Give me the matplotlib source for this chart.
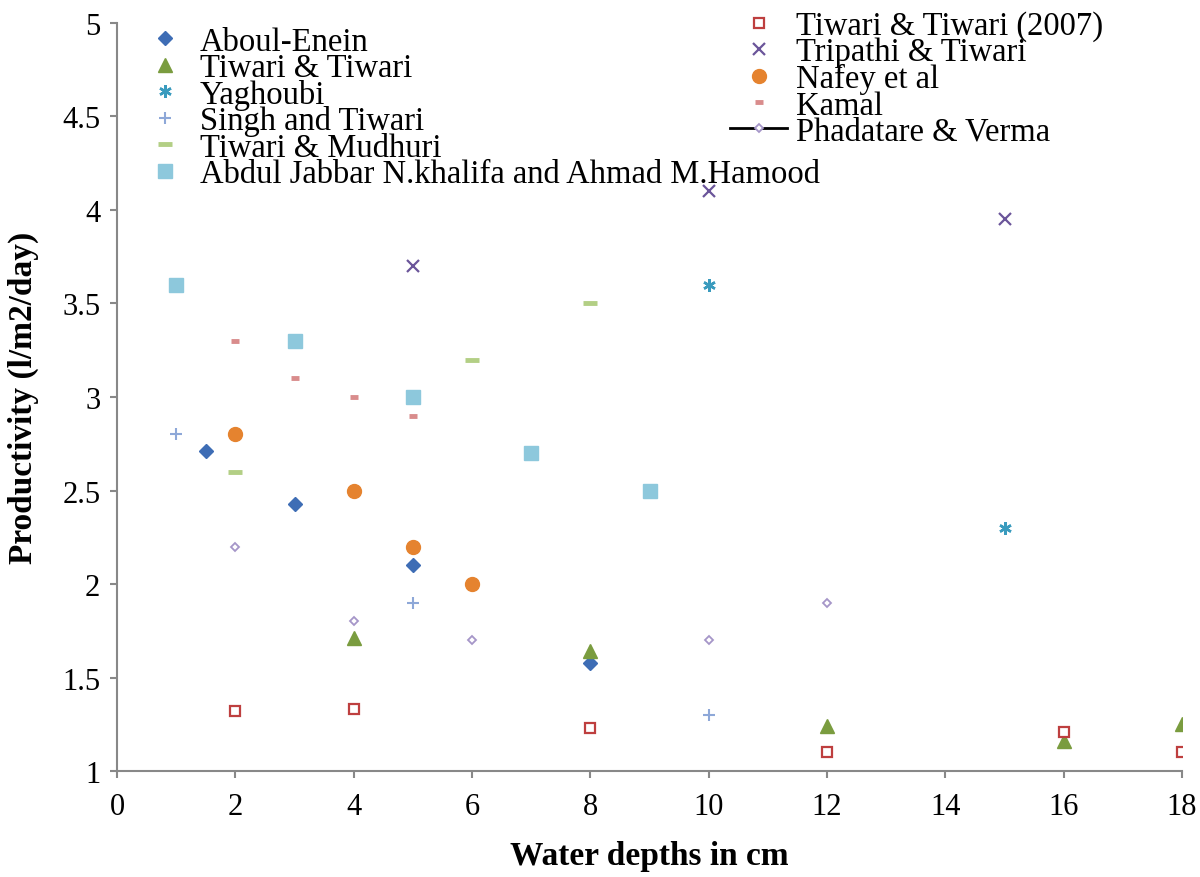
import matplotlib
matplotlib.use('Agg')
import matplotlib.pyplot as plt
from matplotlib.lines import Line2D

plt.rcParams['font.family'] = ['Liberation Serif', 'DejaVu Serif']

# ===== data =====
aboul_x = [1.5, 3, 5, 8]
aboul_y = [2.71, 2.43, 2.10, 1.58]

tiwari_x = [4, 8, 12, 16, 18]
tiwari_y = [1.71, 1.64, 1.24, 1.16, 1.25]

yaghoubi_x = [10, 15]
yaghoubi_y = [3.6, 2.3]

singh_x = [1, 5, 10]
singh_y = [2.8, 1.9, 1.3]

mudhuri_x = [2, 6, 8]
mudhuri_y = [2.6, 3.2, 3.5]

abdul_x = [1, 3, 5, 7, 9]
abdul_y = [3.6, 3.3, 3.0, 2.7, 2.5]

tiwari07_x = [2, 4, 8, 12, 16, 18]
tiwari07_y = [1.32, 1.33, 1.23, 1.10, 1.21, 1.10]

tripathi_x = [5, 10, 15]
tripathi_y = [3.7, 4.1, 3.95]

nafey_x = [2, 4, 5, 6]
nafey_y = [2.8, 2.5, 2.2, 2.0]

kamal_x = [2, 3, 4, 5]
kamal_y = [3.3, 3.1, 3.0, 2.9]

phad_x = [2, 4, 6, 10, 12]
phad_y = [2.2, 1.8, 1.7, 1.7, 1.9]

x_ticks = [0, 2, 4, 6, 8, 10, 12, 14, 16, 18]
y_ticks = [1, 1.5, 2, 2.5, 3, 3.5, 4, 4.5, 5]
y_tick_labels = ['1', '1.5', '2', '2.5', '3', '3.5', '4', '4.5', '5']

fig = plt.figure(figsize=(12, 8.78), dpi=100)
ax = fig.add_axes([0.0975, 0.1207, 0.8875, 0.852])

# 每个系列单独画散点
h_aboul, = ax.plot(aboul_x, aboul_y, ls='none', marker='D', ms=7.5, color='#3E6DB5',
                   mec='#3E6DB5', label='Aboul-Enein')
h_tiwari, = ax.plot(tiwari_x, tiwari_y, ls='none', marker='^', ms=10, color='#7A9C3F',
                    label='Tiwari & Tiwari')
h_yag, = ax.plot(yaghoubi_x, yaghoubi_y, ls='none', marker=(6, 2, 0), ms=9, mew=1.8,
                 color='#3A9BBE', label='Yaghoubi')
h_singh, = ax.plot(singh_x, singh_y, ls='none', marker='+', ms=9, mew=1.5,
                   color='#8EA8D8', label='Singh and Tiwari')
h_mud, = ax.plot(mudhuri_x, mudhuri_y, ls='none', marker='_', ms=10, mew=3.5,
                 color='#B3CF85', label='Tiwari & Mudhuri')
h_abdul, = ax.plot(abdul_x, abdul_y, ls='none', marker='s', ms=10, color='#8DC8DC',
                   label='Abdul Jabbar N.khalifa and Ahmad M.Hamood')
h_t07, = ax.plot(tiwari07_x, tiwari07_y, ls='none', marker='s', ms=6.5, mew=1.6,
                 mfc='white', mec='#BE3F3F', label='Tiwari & Tiwari (2007)')
h_trip, = ax.plot(tripathi_x, tripathi_y, ls='none', marker='x', ms=9, mew=1.6,
                  color='#6B559A', label='Tripathi & Tiwari')
h_nafey, = ax.plot(nafey_x, nafey_y, ls='none', marker='o', ms=10, color='#E5832F',
                   label='Nafey et al')
h_kamal, = ax.plot(kamal_x, kamal_y, ls='none', marker='_', ms=6, mew=3.5,
                   color='#D98C8C', label='Kamal')
ax.plot(phad_x, phad_y, ls='none', marker='D', ms=4.5, mew=1.3,
        mfc='white', mec='#A596C8')
h_phad = Line2D([], [], color='black', lw=2, marker='D', ms=4.5, mew=1.3,
                mfc='white', mec='#A596C8', label='Phadatare & Verma')

ax.set_xlim(0, 18)
ax.set_ylim(1, 5)
ax.set_xticks(x_ticks)
ax.set_yticks(y_ticks)
ax.set_yticklabels(y_tick_labels)

for side in ['top', 'right']:
    ax.spines[side].set_visible(False)
for side in ['left', 'bottom']:
    ax.spines[side].set_color('#888888')
    ax.spines[side].set_linewidth(1.5)
ax.tick_params(axis='both', direction='out', length=5, width=1.5, color='#888888',
               labelsize=22)
ax.tick_params(axis='x', pad=10)
ax.tick_params(axis='y', pad=7)

ax.set_xlabel('Water depths in cm', fontsize=24, fontweight='bold', labelpad=14)
ax.set_ylabel('Productivity (l/m2/day)', fontsize=24, fontweight='bold', labelpad=17)

# 两个图例（左边6个，右边5个）
leg_fs = 23.5
leg1 = ax.legend(handles=[h_aboul, h_tiwari, h_yag, h_singh, h_mud, h_abdul],
                 loc='upper left', bbox_to_anchor=(0.124, 0.969),
                 bbox_transform=fig.transFigure, frameon=False, fontsize=leg_fs,
                 handlelength=1.0, handletextpad=0.57, labelspacing=-0.13,
                 borderpad=0, borderaxespad=0)
ax.add_artist(leg1)
ax.legend(handles=[h_t07, h_trip, h_nafey, h_kamal, h_phad],
          loc='upper left', bbox_to_anchor=(0.6083, 0.987),
          bbox_transform=fig.transFigure, frameon=False, fontsize=leg_fs,
          handlelength=1.75, handletextpad=0.28, labelspacing=-0.13,
          borderpad=0, borderaxespad=0)

plt.savefig('out.png', dpi=100)
plt.close(fig)
